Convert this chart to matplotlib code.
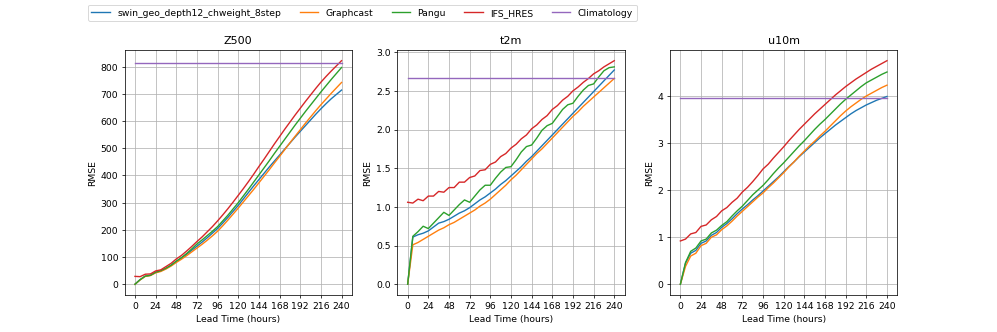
import matplotlib
matplotlib.use('Agg')
import matplotlib.pyplot as plt
from matplotlib.ticker import MultipleLocator
import numpy as np

hours = list(range(0, 241, 6))
labels = ['swin_geo_depth12_chweight_8step', 'Graphcast', 'Pangu', 'IFS_HRES', 'Climatology']
titles = ['Z500', 't2m', 'u10m']
climatology = [812, 2.66, 3.96]
y_steps = [100, 0.5, 1]

# Z500
z500_swin = [0, 17, 30, 33, 44, 49, 58, 70, 84, 96, 110, 125, 140, 155, 171, 188, 205, 225, 246, 268,
             290, 314, 338, 362, 385, 408, 431, 453, 475, 497, 519, 541, 562, 583, 604, 625, 645, 664,
             682, 698, 714]
z500_graphcast = [0, 16, 29, 32, 42, 47, 56, 67, 80, 92, 105, 119, 133, 147, 162, 178, 195, 215, 236,
                  258, 280, 303, 326, 349, 373, 397, 421, 446, 470, 495, 520, 544, 568, 592, 615, 638,
                  660, 681, 702, 722, 742]
z500_pangu = [0, 17, 30, 33, 44, 50, 59, 70, 85, 98, 113, 130, 148, 163, 179, 195, 212, 233, 254, 277,
              300, 325, 350, 376, 402, 428, 454, 481, 507, 533, 559, 585, 610, 635, 659, 683, 707, 730,
              753, 775, 797]
z500_ifs = [29, 28, 37, 38, 49, 53, 65, 77, 93, 106, 122, 139, 157, 174, 193, 212, 233, 255, 278, 302,
            327, 352, 378, 405, 433, 460, 488, 516, 543, 570, 596, 622, 647, 672, 696, 720, 743, 764,
            784, 803, 822]

# t2m
t2m_swin = [0, 0.61, 0.64, 0.66, 0.69, 0.74, 0.79, 0.81, 0.84, 0.88, 0.92, 0.95, 0.99, 1.04, 1.09,
            1.13, 1.18, 1.23, 1.29, 1.34, 1.40, 1.46, 1.52, 1.59, 1.65, 1.72, 1.79, 1.86, 1.93, 2.00,
            2.07, 2.14, 2.21, 2.28, 2.35, 2.42, 2.49, 2.56, 2.63, 2.70, 2.77]
t2m_graphcast = [0, 0.51, 0.54, 0.58, 0.62, 0.66, 0.70, 0.73, 0.77, 0.80, 0.84, 0.88, 0.92, 0.96, 1.01,
                 1.05, 1.10, 1.16, 1.22, 1.28, 1.35, 1.41, 1.48, 1.55, 1.62, 1.69, 1.75, 1.82, 1.89,
                 1.96, 2.03, 2.10, 2.17, 2.23, 2.30, 2.36, 2.42, 2.48, 2.54, 2.60, 2.66]
t2m_pangu = [0, 0.62, 0.68, 0.75, 0.72, 0.79, 0.86, 0.93, 0.89, 0.96, 1.03, 1.09, 1.06, 1.14, 1.22,
             1.28, 1.28, 1.37, 1.45, 1.51, 1.52, 1.61, 1.71, 1.78, 1.80, 1.89, 1.99, 2.05, 2.08, 2.17,
             2.26, 2.32, 2.34, 2.43, 2.51, 2.57, 2.59, 2.68, 2.76, 2.80, 2.81]
t2m_ifs = [1.06, 1.05, 1.10, 1.08, 1.14, 1.14, 1.20, 1.19, 1.25, 1.25, 1.32, 1.32, 1.38, 1.40, 1.47,
           1.48, 1.55, 1.58, 1.65, 1.69, 1.76, 1.81, 1.88, 1.93, 2.01, 2.06, 2.13, 2.18, 2.26, 2.31,
           2.38, 2.43, 2.50, 2.55, 2.61, 2.66, 2.72, 2.76, 2.81, 2.85, 2.89]

# u10m
u10m_swin = [0, 0.45, 0.66, 0.72, 0.87, 0.92, 1.04, 1.10, 1.21, 1.29, 1.39, 1.50, 1.60, 1.69, 1.79,
             1.88, 1.98, 2.08, 2.18, 2.28, 2.39, 2.50, 2.60, 2.71, 2.81, 2.91, 3.01, 3.11, 3.20, 3.29,
             3.38, 3.46, 3.54, 3.62, 3.69, 3.75, 3.81, 3.86, 3.91, 3.95, 3.99]
u10m_graphcast = [0, 0.38, 0.60, 0.66, 0.82, 0.87, 1.00, 1.05, 1.16, 1.24, 1.34, 1.45, 1.55, 1.65,
                  1.75, 1.85, 1.94, 2.05, 2.15, 2.26, 2.37, 2.49, 2.60, 2.72, 2.83, 2.94, 3.04, 3.15,
                  3.25, 3.36, 3.47, 3.58, 3.68, 3.77, 3.85, 3.93, 4.00, 4.06, 4.12, 4.18, 4.23]
u10m_pangu = [0, 0.46, 0.70, 0.77, 0.92, 0.96, 1.09, 1.15, 1.25, 1.33, 1.45, 1.56, 1.66, 1.78, 1.90,
              2.00, 2.10, 2.22, 2.35, 2.47, 2.58, 2.70, 2.82, 2.94, 3.05, 3.17, 3.29, 3.40, 3.50, 3.61,
              3.72, 3.83, 3.93, 4.02, 4.11, 4.20, 4.28, 4.34, 4.40, 4.46, 4.51]
u10m_ifs = [0.92, 0.96, 1.07, 1.10, 1.23, 1.26, 1.37, 1.44, 1.56, 1.63, 1.74, 1.83, 1.96, 2.06, 2.18,
            2.31, 2.45, 2.55, 2.68, 2.80, 2.92, 3.05, 3.17, 3.29, 3.40, 3.51, 3.62, 3.72, 3.82, 3.92,
            4.02, 4.11, 4.20, 4.28, 4.36, 4.43, 4.50, 4.57, 4.63, 4.69, 4.75]

panels = [
    [z500_swin, z500_graphcast, z500_pangu, z500_ifs],
    [t2m_swin, t2m_graphcast, t2m_pangu, t2m_ifs],
    [u10m_swin, u10m_graphcast, u10m_pangu, u10m_ifs],
]

fig, axes = plt.subplots(1, 3, figsize=(15, 5), dpi=997 / 15)
fig.subplots_adjust(top=0.85)

for ax, title, series, clim, step in zip(axes, titles, panels, climatology, y_steps):
    for vals, label in zip(series, labels[:4]):
        ax.plot(hours, vals, label=label)
    ax.plot(hours, np.full(len(hours), clim), label=labels[4])
    ax.set_title(title)
    ax.set_xlabel('Lead Time (hours)')
    ax.set_ylabel('RMSE')
    ax.set_xticks(range(0, 241, 24))
    ax.yaxis.set_major_locator(MultipleLocator(step))
    ax.grid(True)

handles, lbls = axes[0].get_legend_handles_labels()
fig.legend(handles, lbls, ncol=5, loc='upper left', bbox_to_anchor=(0.088, 0.985), borderaxespad=0)

plt.savefig('out.png', dpi=997 / 15)
